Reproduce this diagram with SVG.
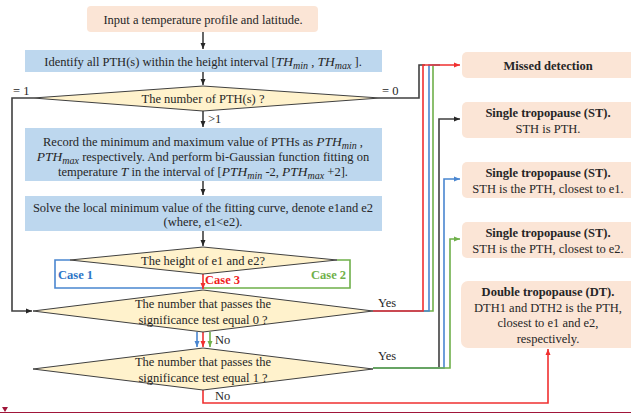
<svg xmlns="http://www.w3.org/2000/svg" width="631" height="414" viewBox="0 0 631 414">
<style>
text{font-family:"Liberation Serif","Times New Roman",serif;font-size:12.5px;fill:#262626}
.c{text-anchor:middle}
.b{font-weight:bold}
.i{font-style:italic;font-size:13.5px}
.s{font-size:10px;font-style:italic}
.peach{fill:#fbe5d6}
.blue{fill:#bdd7ee}
.dia{fill:#fff2cc;stroke:#404040;stroke-width:1}
.ln{fill:none;stroke-width:1.6}
.k{stroke:#404040}
.r{stroke:#f03030}
.bl{stroke:#4a86d0}
.g{stroke:#6fb04a}
</style>
<defs>
<marker id="ak" markerUnits="userSpaceOnUse" markerWidth="7" markerHeight="7" refX="6" refY="3.5" orient="auto"><path d="M0,1 L6,3.5 L0,6 z" fill="#262626"/></marker>
<marker id="ar" markerUnits="userSpaceOnUse" markerWidth="7" markerHeight="7" refX="6" refY="3.5" orient="auto"><path d="M0,1 L6,3.5 L0,6 z" fill="#f03030"/></marker>
<marker id="ab" markerUnits="userSpaceOnUse" markerWidth="7" markerHeight="7" refX="6" refY="3.5" orient="auto"><path d="M0,1 L6,3.5 L0,6 z" fill="#4a86d0"/></marker>
<marker id="ag" markerUnits="userSpaceOnUse" markerWidth="7" markerHeight="7" refX="6" refY="3.5" orient="auto"><path d="M0,1 L6,3.5 L0,6 z" fill="#6fb04a"/></marker>
</defs>

<g id="connectors">
<path class="ln k" d="M203,32 V49" marker-end="url(#ak)"/>
<path class="ln k" d="M203,72 V85" marker-end="url(#ak)"/>
<path class="ln k" d="M203,111 V127" marker-end="url(#ak)"/>
<path class="ln k" d="M203,181 V195" marker-end="url(#ak)"/>
<path class="ln k" d="M203,231 V246" marker-end="url(#ak)"/>
<path class="ln k" d="M33,98 H12 V311 H32" marker-end="url(#ak)"/>
<path class="ln k" d="M380,98 H419 V65 H425"/>
<path class="ln bl" d="M70,260 H55 V288 H203"/>
<path class="ln g" d="M337,260 H350 V288 H203"/>
<path class="ln r" d="M203,274 V289" marker-end="url(#ar)"/>
<path class="ln bl" d="M197,332 V347" marker-end="url(#ab)"/>
<path class="ln r" d="M203,332 V347" marker-end="url(#ar)"/>
<path class="ln g" d="M210,332 V347" marker-end="url(#ag)"/>
<path class="ln g" d="M373,311 H433 V65 H440"/>
<path class="ln bl" d="M373,311 H429 V65 H440"/>
<path class="ln r" d="M373,311 H423 V65 H460" marker-end="url(#ar)"/>
<path class="ln k" d="M373,368 H439 V119 H460" marker-end="url(#ak)"/>
<path class="ln bl" d="M373,368 H444 V179 H460" marker-end="url(#ab)"/>
<path class="ln g" d="M373,368 H450 V239 H460" marker-end="url(#ag)"/>
<path class="ln r" d="M203,390 V403 H548 V349" marker-end="url(#ar)"/>
</g>

<g id="start"><rect class="peach" x="87" y="6" width="231" height="26" rx="4"/>
<text class="c" x="203" y="23.5">Input a temperature profile and latitude.</text></g>

<g id="identify"><rect class="blue" x="25" y="50" width="357" height="22"/>
<text class="c" x="203" y="65.5">Identify all PTH(s) within the height interval [<tspan class="i">TH</tspan><tspan class="s" dy="3">min</tspan><tspan dy="-3"> , </tspan><tspan class="i">TH</tspan><tspan class="s" dy="3">max</tspan><tspan dy="-3"> ].</tspan></text></g>

<g id="numPTH"><polygon class="dia" points="33,98 203,86 380,98 203,111"/>
<text class="c" x="203" y="102.5">The number of PTH(s) ?</text>
<text x="13" y="95">= 1</text>
<text x="382" y="95">= 0</text>
<text x="208" y="123">&gt;1</text></g>

<g id="record"><rect class="blue" x="25" y="128" width="357" height="53"/>
<text class="c" x="203" y="145.5">Record the minimum and maximum value of PTHs as <tspan class="i">PTH</tspan><tspan class="s" dy="3">min</tspan><tspan dy="-3"> ,</tspan></text>
<text class="c" x="203" y="160.5"><tspan class="i">PTH</tspan><tspan class="s" dy="3">max</tspan><tspan dy="-3"> respectively. And perform bi-Gaussian function fitting on</tspan></text>
<text class="c" x="203" y="175.5">temperature <tspan class="i">T</tspan> in the interval of [<tspan class="i">PTH</tspan><tspan class="s" dy="3">min</tspan><tspan dy="-3"> -2, </tspan><tspan class="i">PTH</tspan><tspan class="s" dy="3">max</tspan><tspan dy="-3"> +2].</tspan></text></g>

<g id="solve"><rect class="blue" x="25" y="196" width="357" height="35"/>
<text class="c" x="203" y="211.5">Solve the local minimum value of the fitting curve, denote e1and e2</text>
<text class="c" x="203" y="225.5">(where, e1&lt;e2).</text></g>

<g id="height"><polygon class="dia" points="70,260 203,247 337,260 203,274"/>
<text class="c" x="203" y="265">The height of e1 and e2?</text>
<text class="b" x="58" y="279" style="fill:#2e75c6">Case 1</text>
<text class="b" x="311" y="279" style="fill:#6fb04a">Case 2</text>
<text class="b" x="205" y="284" style="fill:#f02020">Case 3</text></g>

<g id="test0"><polygon class="dia" points="33,311 203,290 373,311 203,332"/>
<text class="c" x="203" y="308">The number that passes the</text>
<text class="c" x="203" y="324">significance test equal 0 ?</text>
<text x="378" y="307">Yes</text>
<text x="215" y="344">No</text></g>

<g id="test1"><polygon class="dia" points="33,369 203,348 373,369 203,390"/>
<text class="c" x="203" y="366">The number that passes the</text>
<text class="c" x="203" y="382">significance test equal 1 ?</text>
<text x="378" y="360">Yes</text>
<text x="215" y="400">No</text></g>

<g id="missed"><rect class="peach" x="462" y="52" width="180" height="26" rx="5"/>
<text class="c b" x="548" y="69.5">Missed detection</text></g>

<g id="st1"><rect class="peach" x="462" y="102" width="180" height="36" rx="5"/>
<text class="c b" x="548" y="117">Single tropopause (ST).</text>
<text class="c" x="548" y="133">STH is PTH.</text></g>

<g id="st2"><rect class="peach" x="462" y="162" width="180" height="36" rx="5"/>
<text class="c b" x="548" y="177">Single tropopause (ST).</text>
<text class="c" x="548" y="193">STH is the PTH, closest to e1.</text></g>

<g id="st3"><rect class="peach" x="462" y="222" width="180" height="36" rx="5"/>
<text class="c b" x="548" y="237">Single tropopause (ST).</text>
<text class="c" x="548" y="253">STH is the PTH, closest to e2.</text></g>

<g id="dt"><rect class="peach" x="461" y="281" width="180" height="67" rx="7"/>
<text class="c b" x="548" y="296">Double tropopause (DT).</text>
<text class="c" x="548" y="312">DTH1 and DTH2 is the PTH,</text>
<text class="c" x="548" y="327">closest to e1 and e2,</text>
<text class="c" x="548" y="343">respectively.</text></g>

<g id="pageline"><path d="M0,412.5 H631" stroke="#a0163a" stroke-width="1.2" fill="none"/>
<path d="M2,407 L8,407 L5,412 z" fill="#a0163a"/></g>
</svg>
